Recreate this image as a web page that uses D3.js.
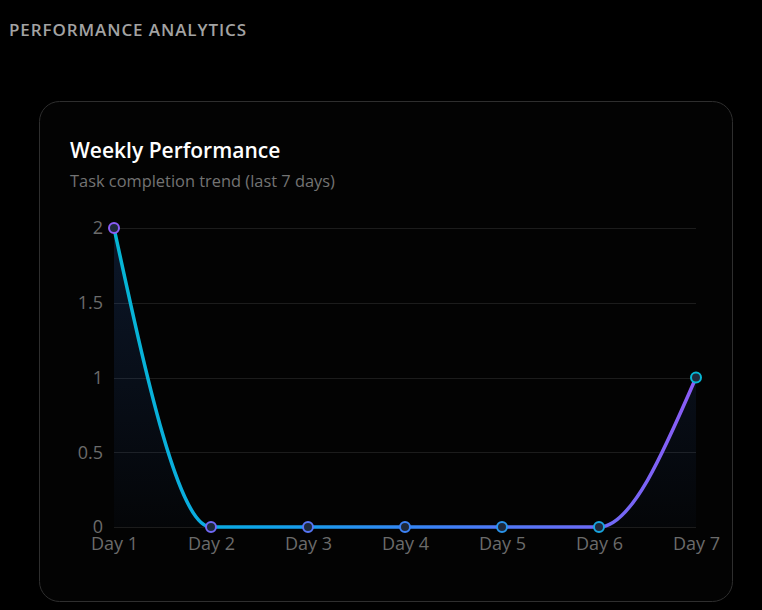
<!DOCTYPE html>
<html>
<head>
<meta charset="utf-8">
<script src="https://cdn.jsdelivr.net/npm/d3@7"></script>
<style>
  html, body { margin: 0; padding: 0; background: #000; }
  body { width: 762px; height: 610px; overflow: hidden; font-family: "Open Sans", "Noto Sans", sans-serif; }
</style>
</head>
<body>
<script>
// chart data
var days = ["Day 1", "Day 2", "Day 3", "Day 4", "Day 5", "Day 6", "Day 7"];
var completed = [2, 0, 0, 0, 0, 0, 1];
var yTicks = [0, 0.5, 1, 1.5, 2];

var w = 762, h = 610;
var font = "\"Open Sans\", \"Noto Sans\", sans-serif";

var svg = d3.select("body").append("svg")
    .attr("width", w).attr("height", h);

var defs = svg.append("defs");

// section header
svg.append("text")
    .attr("x", 9).attr("y", 36)
    .attr("font-size", 17).attr("font-weight", 600)
    .attr("letter-spacing", 0.9)
    .attr("fill", "#a3a3a3")
    .text("PERFORMANCE ANALYTICS");

// card
svg.append("rect")
    .attr("x", 39.5).attr("y", 101.5)
    .attr("width", 693).attr("height", 500)
    .attr("rx", 20).attr("ry", 20)
    .attr("fill", "#030303")
    .attr("stroke", "#2e2e2e").attr("stroke-width", 1);

svg.append("text")
    .attr("x", 70).attr("y", 158)
    .attr("font-size", 21).attr("font-weight", 600)
    .attr("fill", "#ffffff")
    .text("Weekly Performance");

svg.append("text")
    .attr("x", 70).attr("y", 187)
    .attr("font-size", 16.4)
    .attr("fill", "#737373")
    .text("Task completion trend (last 7 days)");

// scales
var x = d3.scalePoint().domain(days).range([114, 696]);
var y = d3.scaleLinear().domain([0, 2]).range([527, 228]);

// gradients
var lineGrad = defs.append("linearGradient")
    .attr("id", "lineGrad").attr("gradientUnits", "userSpaceOnUse")
    .attr("x1", x.range()[0]).attr("x2", x.range()[1]).attr("y1", 0).attr("y2", 0);
lineGrad.append("stop").attr("offset", "0%").attr("stop-color", "#06b6d4");
lineGrad.append("stop").attr("offset", "25%").attr("stop-color", "#0ea5e9");
lineGrad.append("stop").attr("offset", "55%").attr("stop-color", "#3b82f6");
lineGrad.append("stop").attr("offset", "100%").attr("stop-color", "#8b5cf6");

var pointGrad = defs.append("linearGradient")
    .attr("id", "pointGrad").attr("gradientUnits", "userSpaceOnUse")
    .attr("x1", x.range()[0]).attr("x2", x.range()[1]).attr("y1", 0).attr("y2", 0);
pointGrad.append("stop").attr("offset", "0%").attr("stop-color", "#8b5cf6");
pointGrad.append("stop").attr("offset", "50%").attr("stop-color", "#3b82f6");
pointGrad.append("stop").attr("offset", "100%").attr("stop-color", "#06b6d4");

var fillGrad = defs.append("linearGradient")
    .attr("id", "fillGrad").attr("gradientUnits", "userSpaceOnUse")
    .attr("x1", 0).attr("x2", 0).attr("y1", y.range()[1]).attr("y2", y.range()[0]);
fillGrad.append("stop").attr("offset", "0%").attr("stop-color", "#3b82f6").attr("stop-opacity", 0.16);
fillGrad.append("stop").attr("offset", "100%").attr("stop-color", "#3b82f6").attr("stop-opacity", 0.02);

// grid lines
svg.append("g").selectAll("line")
    .data(yTicks)
    .join("line")
    .attr("x1", x.range()[0]).attr("x2", x.range()[1])
    .attr("y1", function(d) { return Math.round(y(d)) + 0.5; })
    .attr("y2", function(d) { return Math.round(y(d)) + 0.5; })
    .attr("stroke", "#1c1c1c").attr("stroke-width", 1);

// y axis labels
var yAxis = svg.append("g")
    .attr("transform", "translate(" + (x.range()[0] - 8) + ",0)")
    .call(d3.axisLeft(y).tickValues(yTicks).tickSize(0).tickPadding(3)
        .tickFormat(function(d) { return d; }));
yAxis.select(".domain").remove();
yAxis.selectAll("text")
    .attr("font-family", font)
    .attr("font-size", 18).attr("fill", "#6b6b6b");

// x axis labels
var xAxis = svg.append("g")
    .attr("transform", "translate(0," + (y.range()[0] + 6) + ")")
    .call(d3.axisBottom(x).tickSize(0).tickPadding(4));
xAxis.select(".domain").remove();
xAxis.selectAll("text")
    .attr("font-family", font)
    .attr("font-size", 18).attr("fill", "#6b6b6b");

// area + line
var area = d3.area()
    .x(function(d, i) { return x(days[i]); })
    .y0(y(0))
    .y1(function(d) { return y(d); })
    .curve(d3.curveMonotoneX);

var line = d3.line()
    .x(function(d, i) { return x(days[i]); })
    .y(function(d) { return y(d); })
    .curve(d3.curveMonotoneX);

svg.append("path")
    .datum(completed)
    .attr("d", area)
    .attr("fill", "url(#fillGrad)");

svg.append("path")
    .datum(completed)
    .attr("d", line)
    .attr("fill", "none")
    .attr("stroke", "url(#lineGrad)")
    .attr("stroke-width", 3.5)
    .attr("stroke-linecap", "round");

// points
svg.append("g").selectAll("circle")
    .data(completed)
    .join("circle")
    .attr("cx", function(d, i) { return x(days[i]); })
    .attr("cy", function(d) { return y(d); })
    .attr("r", 5)
    .attr("fill", "#1e293b")
    .attr("stroke", "url(#pointGrad)")
    .attr("stroke-width", 2);
</script>
</body>
</html>
